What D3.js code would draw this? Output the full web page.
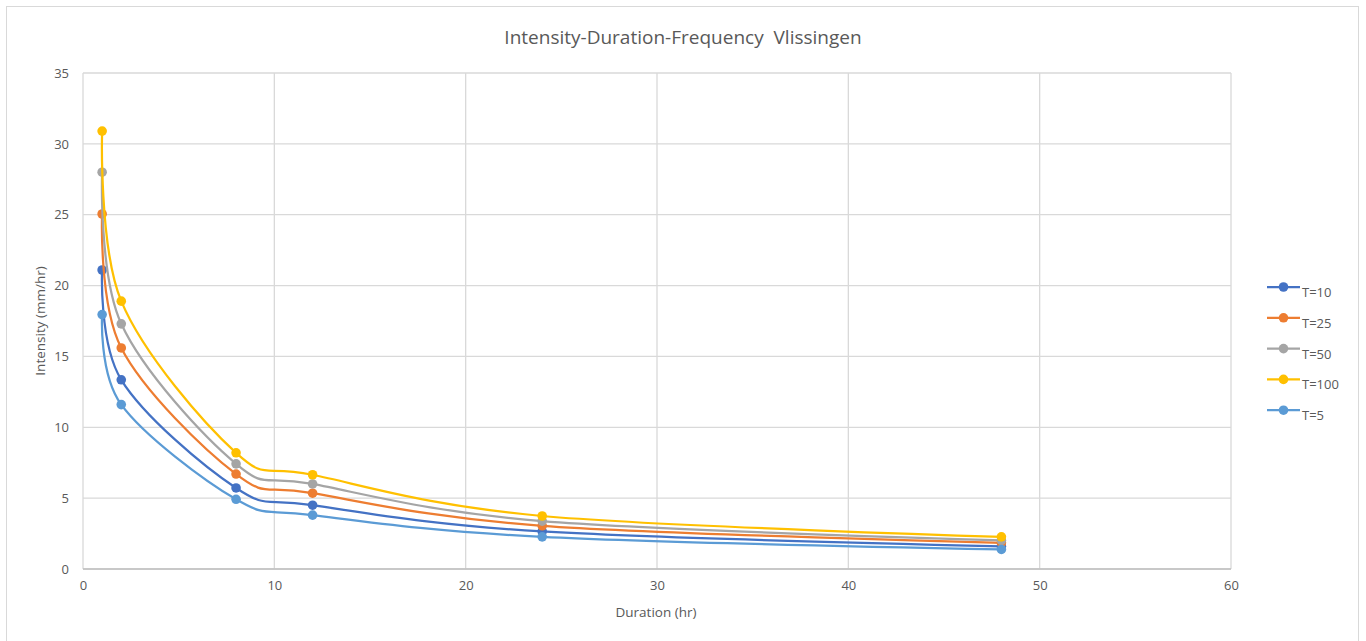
<!DOCTYPE html>
<html>
<head>
<meta charset="utf-8">
<script src="https://cdn.jsdelivr.net/npm/d3@7"></script>
<style>
  html, body { margin: 0; padding: 0; background: #fff; }
  svg text { font-family: "Open Sans", "Liberation Sans", sans-serif; fill: #595959; }
</style>
</head>
<body>
<svg id="chart" width="1366" height="641"></svg>
<script>
// Intensity-Duration-Frequency curves, Vlissingen
const durations = [1, 2, 8, 12, 24, 48];
const seriesNames = ['T=10', 'T=25', 'T=50', 'T=100', 'T=5'];
const t10 = [21.1, 13.35, 5.72, 4.5, 2.65, 1.6];
const t25 = [25.05, 15.6, 6.7, 5.35, 3.05, 1.85];
const t50 = [28.0, 17.3, 7.42, 6.0, 3.38, 2.02];
const t100 = [30.9, 18.9, 8.2, 6.65, 3.74, 2.27];
const t5 = [17.95, 11.6, 4.92, 3.8, 2.27, 1.38];
const seriesValues = [t10, t25, t50, t100, t5];
const seriesColors = ['#4472C4', '#ED7D31', '#A5A5A5', '#FFC000', '#5B9BD5'];
const xTicks = [0, 10, 20, 30, 40, 50, 60];
const yTicks = [0, 5, 10, 15, 20, 25, 30, 35];

(function () {
  const svg = d3.select('#chart');
  const margin = { top: 73, right: 135, bottom: 72, left: 83 };
  const width = 1366, height = 641;
  const innerW = width - margin.left - margin.right;
  const innerH = height - margin.top - margin.bottom;

  // outer chart border
  svg.append('rect').attr('x', 6.5).attr('y', 6.5).attr('width', 1352).attr('height', 640)
    .attr('fill', '#fff').attr('stroke', '#d9d9d9');

  const x = d3.scaleLinear().domain([0, 60]).range([0, innerW]);
  const y = d3.scaleLinear().domain([0, 35]).range([innerH, 0]);
  const g = svg.append('g').attr('transform', `translate(${margin.left},${margin.top})`);

  // gridlines
  g.append('g').selectAll('line').data(yTicks).join('line')
    .attr('x1', 0).attr('x2', innerW).attr('y1', d => y(d)).attr('y2', d => y(d))
    .attr('stroke', '#d9d9d9').attr('stroke-width', 1.3);
  g.append('g').selectAll('line').data(xTicks).join('line')
    .attr('y1', 0).attr('y2', innerH).attr('x1', d => x(d)).attr('x2', d => x(d))
    .attr('stroke', '#d9d9d9').attr('stroke-width', 1.3);
  g.append('line').attr('x1', 0).attr('x2', innerW).attr('y1', innerH).attr('y2', innerH)
    .attr('stroke', '#bfbfbf').attr('stroke-width', 1.3);

  // axes (labels only)
  const xAxis = g.append('g').attr('transform', `translate(0,${innerH})`)
    .call(d3.axisBottom(x).tickValues(xTicks).tickSize(0).tickPadding(12));
  const yAxis = g.append('g')
    .call(d3.axisLeft(y).tickValues(yTicks).tickSize(0).tickPadding(14));
  [xAxis, yAxis].forEach(a => {
    a.select('.domain').remove();
    a.selectAll('text').style('font-size', '13px').style('fill', '#595959')
      .style('font-family', '"Open Sans", "Liberation Sans", sans-serif');
  });

  // title and axis titles
  svg.append('text').attr('x', 683).attr('y', 44).attr('text-anchor', 'middle')
    .style('font-size', '19px').style('white-space', 'pre')
    .text('Intensity-Duration-Frequency  Vlissingen');
  svg.append('text').attr('x', 656).attr('y', 617).attr('text-anchor', 'middle')
    .style('font-size', '13.5px').text('Duration (hr)');
  svg.append('text').attr('transform', `translate(45,${margin.top + innerH / 2}) rotate(-90)`)
    .attr('text-anchor', 'middle').style('font-size', '13.5px').text('Intensity (mm/hr)');

  const line = d3.line().x(d => x(d[0])).y(d => y(d[1])).curve(d3.curveCardinal.tension(0));

  seriesNames.forEach((name, i) => {
    const pts = durations.map((d, j) => [d, seriesValues[i][j]]);
    const s = g.append('g');
    s.append('path').datum(pts).attr('d', line).attr('fill', 'none')
      .attr('stroke', seriesColors[i]).attr('stroke-width', 2.25);
    s.selectAll('circle').data(pts).join('circle')
      .attr('cx', d => x(d[0])).attr('cy', d => y(d[1])).attr('r', 4.8)
      .attr('fill', seriesColors[i]);
  });

  // legend
  const legend = svg.append('g').attr('transform', 'translate(1267,287)');
  seriesNames.forEach((name, i) => {
    const row = legend.append('g').attr('transform', `translate(0,${i * 30.8})`);
    row.append('line').attr('x1', 0).attr('x2', 33).attr('y1', 0).attr('y2', 0)
      .attr('stroke', seriesColors[i]).attr('stroke-width', 2.25);
    row.append('circle').attr('cx', 16.5).attr('cy', 0).attr('r', 4.8).attr('fill', seriesColors[i]);
    row.append('text').attr('x', 35).attr('y', 10).style('font-size', '13px').text(name);
  });
})();
</script>
</body>
</html>
